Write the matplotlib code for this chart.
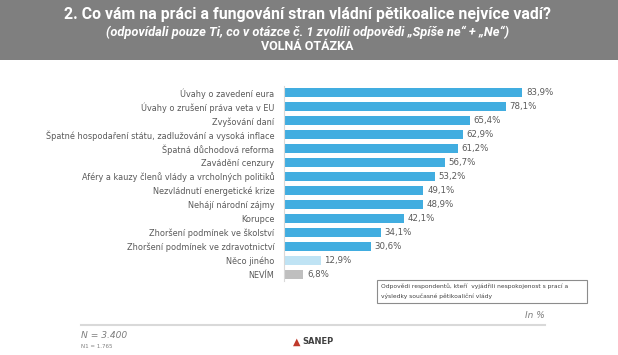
import matplotlib
matplotlib.use("Agg")
import matplotlib.pyplot as plt
from matplotlib.patches import Rectangle

categories = [
    "Úvahy o zavedení eura",
    "Úvahy o zrušení práva veta v EU",
    "Zvyšování daní",
    "Špatné hospodaření státu, zadlužování a vysoká inflace",
    "Špatná důchodová reforma",
    "Zavádění cenzury",
    "Aféry a kauzy členů vlády a vrcholných politiků",
    "Nezvládnutí energetické krize",
    "Nehájí národní zájmy",
    "Korupce",
    "Zhoršení podmínek ve školství",
    "Zhoršení podmínek ve zdravotnictví",
    "Něco jiného",
    "NEVÍM",
]
values = [83.9, 78.1, 65.4, 62.9, 61.2, 56.7, 53.2, 49.1, 48.9, 42.1, 34.1, 30.6, 12.9, 6.8]
value_labels = ["83,9%", "78,1%", "65,4%", "62,9%", "61,2%", "56,7%", "53,2%", "49,1%",
                "48,9%", "42,1%", "34,1%", "30,6%", "12,9%", "6,8%"]
colors = ["#41ADE0"] * 12 + ["#BFE3F4", "#BFBFBF"]

W, H = 618, 355
fig = plt.figure(figsize=(W / 100, H / 100), dpi=100)
fig.patch.set_facecolor("white")

def fx(px):
    return px / W

def fy(py):
    return 1 - py / H

# header band
fig.patches.append(Rectangle((0, fy(60)), 1, 60 / H, transform=fig.transFigure,
                             facecolor="#7F7F7F", edgecolor="none", zorder=0))
cx = fx(307)
fig.text(cx, fy(15), "2. Co vám na práci a fungování stran vládní pětikoalice nejvíce vadí?",
         ha="center", va="center", color="white", fontsize=11.4, fontweight="bold",
         family="Roboto")
fig.text(cx, fy(32), "(odpovídali pouze Ti, co v otázce č. 1 zvolili odpovědi „Spíše ne“ + „Ne“)",
         ha="center", va="center", color="white", fontsize=9.3, fontweight="bold",
         style="italic", family="Roboto")
fig.text(cx, fy(46), "VOLNÁ OTÁZKA", ha="center", va="center", color="white",
         fontsize=9.0, fontweight="bold", family="Roboto")

# axes
ax = fig.add_axes([fx(284), fy(281), fx(568) - fx(284), (281 - 86) / H])
y = list(range(len(categories)))
ax.barh(y, values, height=0.65, color=colors, zorder=2)
ax.set_xlim(0, 100)
ax.set_ylim(len(categories) - 0.5, -0.5)
ax.set_yticks(y)
ax.set_yticklabels(categories, fontsize=5.9, color="#595959", family="DejaVu Sans")
ax.tick_params(axis="y", length=0, pad=7)
ax.set_xticks([])
for s in ["top", "right", "bottom"]:
    ax.spines[s].set_visible(False)
ax.spines["left"].set_color("#D9D9D9")
ax.spines["left"].set_linewidth(0.8)
for yi, v, lab in zip(y, values, value_labels):
    ax.text(v + 1.3, yi, lab, va="center", ha="left", fontsize=6.2, color="#595959")

# annotation box
fig.patches.append(Rectangle((fx(377), fy(303)), fx(587) - fx(377), (303 - 280) / H,
                             transform=fig.transFigure, facecolor="white",
                             edgecolor="#8C8C8C", linewidth=0.8, zorder=3))
fig.text(fx(381), fy(286), "Odpovědi respondentů, kteří  vyjádřili nespokojenost s prací a",
         ha="left", va="center", fontsize=4.3, color="#404040", zorder=4)
fig.text(fx(381), fy(296), "výsledky současné pětikoaliční vlády",
         ha="left", va="center", fontsize=4.3, color="#404040", zorder=4)

fig.text(fx(545), fy(316), "In %", ha="right", va="center", fontsize=6.5,
         color="#7F7F7F", style="italic")

# bottom line
fig.add_artist(plt.Line2D([fx(81), fx(545)], [fy(325), fy(325)],
                          transform=fig.transFigure, color="#D9D9D9", linewidth=1.5))

fig.text(fx(81), fy(336), "N = 3.400", ha="left", va="center", fontsize=6.6,
         color="#7F7F7F", style="italic")
fig.text(fx(81), fy(347), "N1 = 1.765", ha="left", va="center", fontsize=4,
         color="#7F7F7F")

# logo
fig.text(fx(297), fy(342), "▲", ha="center", va="center", fontsize=7, color="#C0392B")
fig.text(fx(302), fy(341), "SANEP", ha="left", va="center", fontsize=6,
         color="#404040", fontweight="bold")

fig.savefig("out.png", dpi=100)
